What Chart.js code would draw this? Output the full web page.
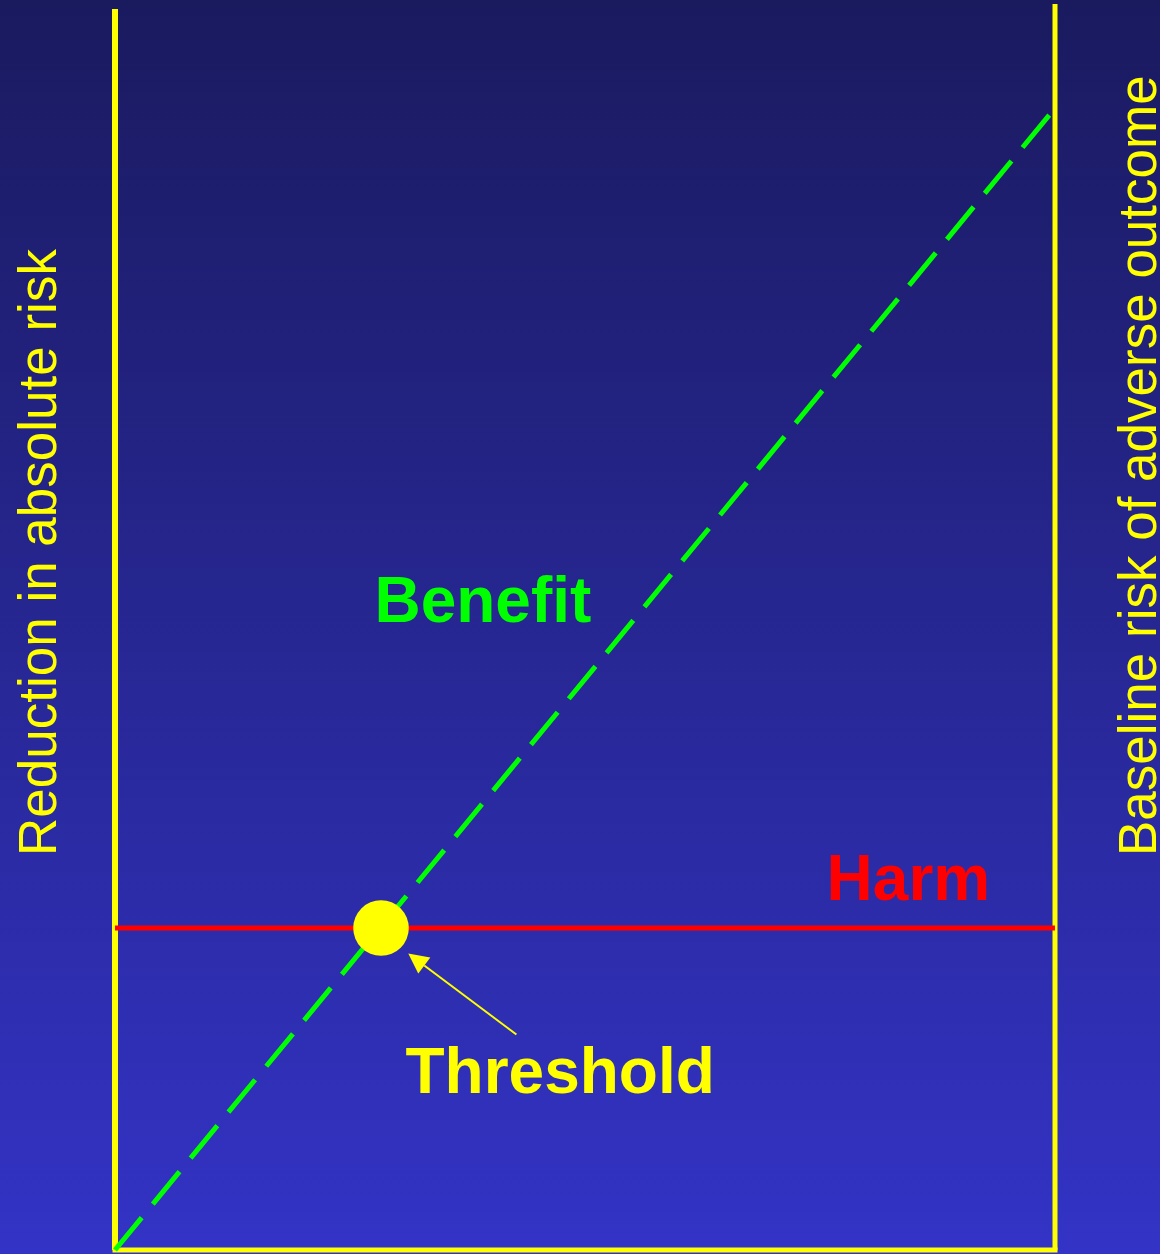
<!DOCTYPE html>
<html>
<head>
<meta charset="utf-8">
<script src="https://cdn.jsdelivr.net/npm/chart.js@4"></script>
<style>
  html, body { margin: 0; padding: 0; background: #1a1a60; }
  #wrap { width: 1160px; height: 1254px; position: relative; }
</style>
</head>
<body>
<div id="wrap"><canvas id="c"></canvas></div>
<script>
// ---- data (axis units: 0..100 on both axes) ----
const benefitX = [0, 100];
const benefitY = [0, 91.65];
const harmX = [0, 100];
const harmY = [25.84, 25.84];
const thresholdX = [28.3];
const thresholdY = [25.84];
const frameLeftX = [0, 0];
const frameLeftY = [0, 99.6];
const frameRightX = [100, 100];
const frameRightY = [0, 100];
const frameBottomX = [0, 100];
const frameBottomY = [0, 0];
const arrowFromXY = [42.7, 17.3];
const arrowToXY = [31.2, 23.8];
const yTitleLeft = 'Reduction in absolute risk';
const yTitleRight = 'Baseline risk of adverse outcome';
const labelBenefit = 'Benefit';
const labelHarm = 'Harm';
const labelThreshold = 'Threshold';

const pts = (xs, ys) => xs.map((x, i) => ({ x: x, y: ys[i] }));

const YELLOW = '#ffff00', GREEN = '#00ff00', RED = '#ff0000';
const FONT = '"Liberation Sans", Arial, Helvetica, sans-serif';

const bgPlugin = {
  id: 'bg',
  beforeDraw(chart) {
    const { ctx, width, height } = chart;
    const g = ctx.createLinearGradient(0, 0, 0, height);
    g.addColorStop(0, '#1a1a5f');
    g.addColorStop(1, '#3333c6');
    ctx.save();
    ctx.fillStyle = g;
    ctx.fillRect(0, 0, width, height);
    ctx.restore();
  }
};

const arrowPlugin = {
  id: 'arrow',
  afterDatasetsDraw(chart) {
    const { ctx, scales: { x, y } } = chart;
    const x1 = x.getPixelForValue(arrowFromXY[0]), y1 = y.getPixelForValue(arrowFromXY[1]);
    const x2 = x.getPixelForValue(arrowToXY[0]), y2 = y.getPixelForValue(arrowToXY[1]);
    const dx = x2 - x1, dy = y2 - y1, len = Math.hypot(dx, dy);
    const ux = dx / len, uy = dy / len;
    const headLen = 20, headHalf = 10;
    const bx = x2 - ux * headLen, by = y2 - uy * headLen;
    ctx.save();
    ctx.strokeStyle = YELLOW;
    ctx.fillStyle = YELLOW;
    ctx.lineWidth = 2;
    ctx.beginPath();
    ctx.moveTo(x1, y1);
    ctx.lineTo(bx, by);
    ctx.stroke();
    ctx.beginPath();
    ctx.moveTo(x2, y2);
    ctx.lineTo(bx - uy * headHalf, by + ux * headHalf);
    ctx.lineTo(bx + uy * headHalf, by - ux * headHalf);
    ctx.closePath();
    ctx.fill();
    ctx.restore();
  }
};

const textPlugin = {
  id: 'texts',
  afterDraw(chart) {
    const { ctx, scales: { x, y } } = chart;
    ctx.save();
    ctx.textBaseline = 'alphabetic';
    ctx.textAlign = 'left';
    ctx.font = 'bold 64px ' + FONT;
    ctx.fillStyle = GREEN;
    ctx.fillText(labelBenefit, x.getPixelForValue(27.6), y.getPixelForValue(50.4));
    ctx.fillStyle = RED;
    ctx.fillText(labelHarm, x.getPixelForValue(75.7), y.getPixelForValue(28.1));
    ctx.fillStyle = YELLOW;
    ctx.fillText(labelThreshold, x.getPixelForValue(30.9), y.getPixelForValue(12.6));

    ctx.font = '53px ' + FONT;
    ctx.fillStyle = YELLOW;
    ctx.save();
    ctx.translate(56, 856);
    ctx.rotate(-Math.PI / 2);
    ctx.fillText(yTitleLeft, 0, 0);
    ctx.restore();
    ctx.save();
    ctx.translate(1156, 856);
    ctx.rotate(-Math.PI / 2);
    ctx.fillText(yTitleRight, 0, 0);
    ctx.restore();
    ctx.restore();
  }
};

new Chart(document.getElementById('c'), {
  type: 'scatter',
  data: {
    datasets: [
      { label: 'Threshold', data: pts(thresholdX, thresholdY), showLine: false,
        pointRadius: 27.8, pointHoverRadius: 27.8, backgroundColor: YELLOW,
        borderColor: YELLOW, borderWidth: 0, order: 0, clip: false },
      { label: 'Benefit', data: pts(benefitX, benefitY), showLine: true,
        borderColor: GREEN, borderWidth: 5, borderDash: [42, 17.5], borderCapStyle: 'butt',
        pointRadius: 0, pointHoverRadius: 0, order: 1, clip: false },
      { label: 'Harm', data: pts(harmX, harmY), showLine: true,
        borderColor: RED, borderWidth: 5, pointRadius: 0, pointHoverRadius: 0, order: 2, clip: false },
      { label: 'frameL', data: pts(frameLeftX, frameLeftY), showLine: true,
        borderColor: YELLOW, borderWidth: 6, pointRadius: 0, pointHoverRadius: 0, order: 3, clip: false },
      { label: 'frameR', data: pts(frameRightX, frameRightY), showLine: true,
        borderColor: YELLOW, borderWidth: 5, pointRadius: 0, pointHoverRadius: 0, order: 3, clip: false },
      { label: 'frameB', data: pts(frameBottomX, frameBottomY), showLine: true,
        borderColor: YELLOW, borderWidth: 5, borderCapStyle: 'square',
        pointRadius: 0, pointHoverRadius: 0, order: 3, clip: false }
    ]
  },
  options: {
    responsive: true,
    maintainAspectRatio: false,
    animation: false,
    events: [],
    layout: { autoPadding: false, padding: { left: 115, right: 105, top: 4, bottom: 4 } },
    plugins: { legend: { display: false }, tooltip: { enabled: false }, title: { display: false } },
    scales: {
      x: { type: 'linear', min: 0, max: 100, display: false },
      y: { type: 'linear', min: 0, max: 100, display: false }
    }
  },
  plugins: [bgPlugin, arrowPlugin, textPlugin]
});
</script>
</body>
</html>
